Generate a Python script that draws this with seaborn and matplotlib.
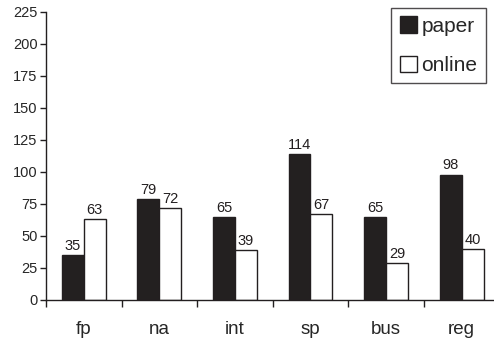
import numpy as np
import pandas as pd
import matplotlib
matplotlib.use("Agg")
import matplotlib.pyplot as plt
import seaborn as sns

# data
categories = ["fp", "na", "int", "sp", "bus", "reg"]
paper = [35, 79, 65, 114, 65, 98]
online = [63, 72, 39, 67, 29, 40]

df = pd.DataFrame({
    "category": categories * 2,
    "value": paper + online,
    "source": ["paper"] * len(categories) + ["online"] * len(categories),
})

sns.set_style("white")
plt.rcParams["font.family"] = ["Liberation Sans", "DejaVu Sans"]

fig = plt.figure(figsize=(4.94, 3.42), dpi=100)
ax = fig.add_axes([0.093, 0.123, 0.918, 0.842])

sns.barplot(
    data=df, x="category", y="value", hue="source", order=categories,
    hue_order=["paper", "online"], palette=["#231f20", "white"],
    edgecolor="#231f20", linewidth=1.0, width=0.58, ax=ax,
)

# value labels on top of bars
for cont in ax.containers:
    ax.bar_label(cont, fontsize=10.5, padding=1.5, color="#231f20")

ax.set_ylim(0, 225)
ax.set_yticks(np.arange(0, 226, 25))
ax.set_xlim(-0.5, len(categories) - 0.5)
ax.set_xlabel("")
ax.set_ylabel("")

# major ticks on category borders, labels on minor ticks at centres
ax.set_xticks(np.arange(-0.5, len(categories), 1.0))
ax.set_xticklabels([])
ax.set_xticks(np.arange(len(categories)), minor=True)
ax.set_xticklabels(categories, minor=True, fontsize=13.5)
ax.tick_params(axis="x", which="major", direction="out", length=5, width=1, color="#231f20", bottom=True)
ax.tick_params(axis="x", which="minor", length=0, pad=15, bottom=True)
ax.tick_params(axis="y", direction="out", length=4, width=1, color="#231f20", left=True,
               labelsize=10.5, pad=2)

for side in ["top", "right"]:
    ax.spines[side].set_visible(False)
for side in ["left", "bottom"]:
    ax.spines[side].set_color("#231f20")
    ax.spines[side].set_linewidth(1.0)

leg = ax.legend(
    loc="upper right", bbox_to_anchor=(0.970, 1.014), borderaxespad=0, fontsize=15,
    handlelength=0.85, handleheight=0.85, handletextpad=0.2,
    labelspacing=0.95, borderpad=0.4, fancybox=False, frameon=True,
)
leg.get_frame().set_edgecolor("#231f20")
leg.get_frame().set_linewidth(1.0)

fig.savefig("out.png", dpi=100)
